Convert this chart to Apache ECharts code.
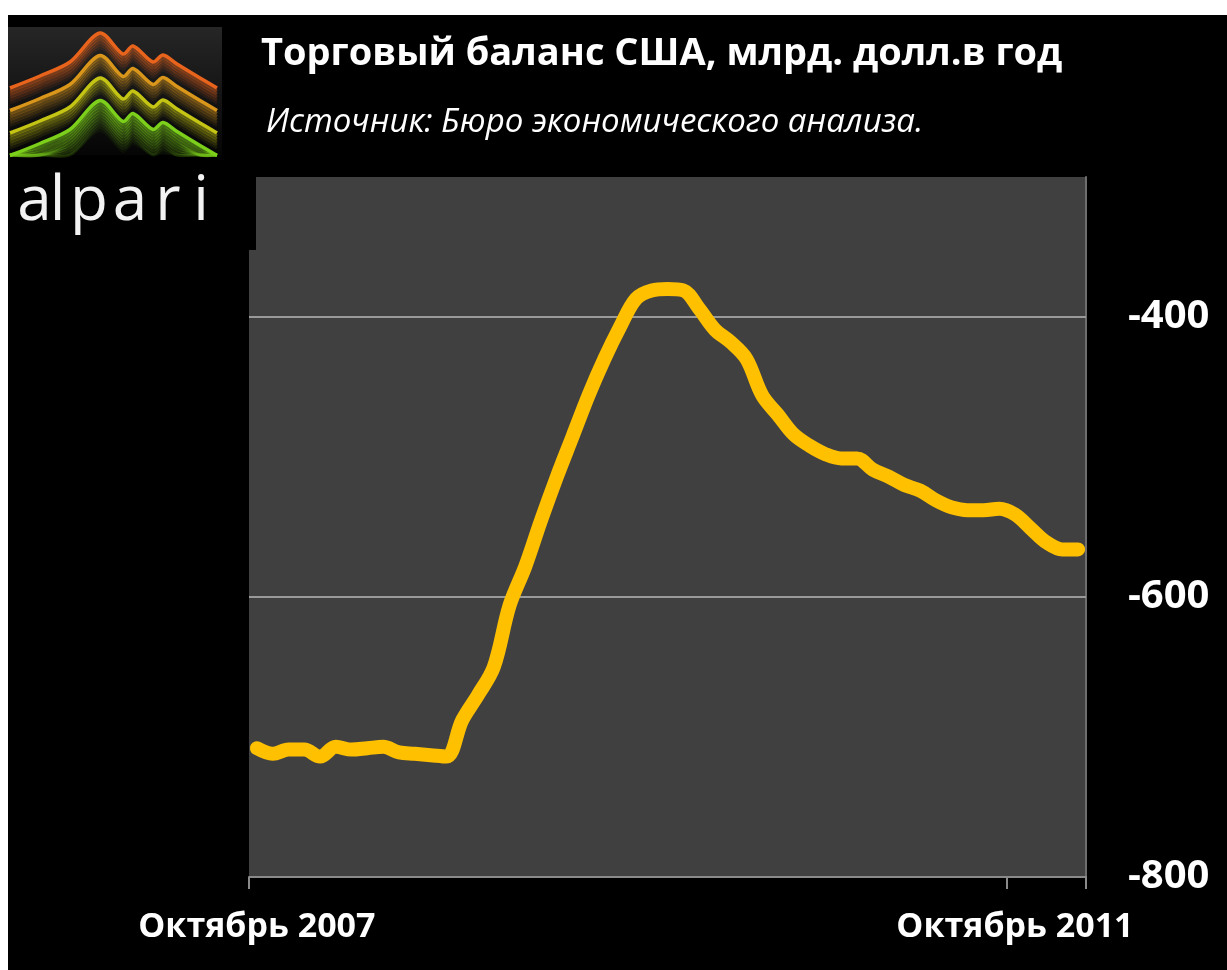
<!DOCTYPE html>
<html>
<head>
<meta charset="utf-8">
<script src="https://cdn.jsdelivr.net/npm/echarts@6/dist/echarts.min.js"></script>
<style>
html,body{margin:0;padding:0;background:#000;}
#chart{width:1227px;height:970px;}
</style>
</head>
<body>
<div id="chart"></div>
<script>
const titleText = 'Торговый баланс США, млрд. долл.в год';
const subtitleText = 'Источник: Бюро экономического анализа.';

const months = [
  '2007-10','2007-11','2007-12',
  '2008-01','2008-02','2008-03','2008-04','2008-05','2008-06','2008-07','2008-08','2008-09','2008-10','2008-11','2008-12',
  '2009-01','2009-02','2009-03','2009-04','2009-05','2009-06','2009-07','2009-08','2009-09','2009-10','2009-11','2009-12',
  '2010-01','2010-02','2010-03','2010-04','2010-05','2010-06','2010-07','2010-08','2010-09','2010-10','2010-11','2010-12',
  '2011-01','2011-02','2011-03','2011-04','2011-05','2011-06','2011-07','2011-08','2011-09','2011-10','2011-11','2011-12',
  '2012-01','2012-02'
];

const tradeBalance = [
  -708, -712, -709, -709, -714, -707, -709, -708, -707, -711, -712, -713, -714,
  -688, -670, -650, -606, -578, -545, -514, -485, -456, -430, -407, -387,
  -381, -380, -381, -394, -409, -418, -430, -456, -470, -484, -492, -498,
  -501, -501, -509, -514, -520, -524, -531, -536, -538, -538, -537, -541,
  -551, -561, -566, -566
];

const xTickLabels = { '2007-10': 'Октябрь 2007', '2011-10': 'Октябрь 2011' };
const yTickLabels = [-400, -600, -800];
const gridLineValues = [-400, -600];

const chart = echarts.init(document.getElementById('chart'), null, { renderer: 'canvas' });

// logo (decoration)
const baseMountain = [[10,88],[40,76],[70,62],[100,33],[123,54],[133,46],[153,62],[163,55],[177,64],[200,78],[217,88]];
const mountainRGB = [[232,100,28], [217,150,26], [196,196,20], [124,207,26]];
const logoEls = [];
logoEls.push({
  type: 'rect', shape: { x: 8, y: 27, width: 214, height: 128 },
  style: { fill: new echarts.graphic.LinearGradient(0, 0, 0, 1, [
    { offset: 0, color: '#262626' }, { offset: 1, color: '#050505' }]) },
  silent: true
});
mountainRGB.forEach((rgb, k) => {
  const glowSteps = k === 3 ? 10 : 5;
  for (let j = glowSteps; j >= 1; j--) {
    const a = 0.55 * (1 - j / (glowSteps + 1));
    const pts = baseMountain.map(p => [p[0], Math.min(p[1] + k * 22.5 + j * 3, 155)]);
    logoEls.push({
      type: 'polyline', shape: { points: pts, smooth: 0.3 },
      style: { stroke: `rgba(${rgb[0]},${rgb[1]},${rgb[2]},${a.toFixed(3)})`, lineWidth: 3, fill: null },
      silent: true
    });
  }
  const pts = baseMountain.map(p => [p[0], p[1] + k * 22.5]);
  logoEls.push({
    type: 'polyline', shape: { points: pts, smooth: 0.3 },
    style: { stroke: `rgb(${rgb[0]},${rgb[1]},${rgb[2]})`, lineWidth: 3.5, fill: null },
    silent: true
  });
});
const alpariLetters = [['a', 34.5], ['l', 57.5], ['p', 89], ['a', 130], ['r', 168], ['i', 201]];
alpariLetters.forEach(([ch, cx]) => {
  logoEls.push({
    type: 'text', x: cx, y: 171,
    style: { text: ch, fill: '#f2f2f2', font: 'normal 62px "Open Sans", "DejaVu Sans"', align: 'center', verticalAlign: 'top' },
    silent: true
  });
});

const option = {
  backgroundColor: '#000000',
  animation: false,
  title: [
    { text: titleText, left: 256, top: 30,
      textStyle: { color: '#ffffff', fontSize: 38, fontWeight: 'bold', fontFamily: '"Open Sans", sans-serif' } },
    { text: subtitleText, left: 261, top: 101,
      textStyle: { color: '#ffffff', fontSize: 33, fontStyle: 'italic', fontWeight: 'normal', fontFamily: '"Open Sans", sans-serif' } }
  ],
  grid: { left: 249, right: 141, top: 177, bottom: 93, show: true, backgroundColor: '#404040', borderWidth: 0 },
  xAxis: {
    type: 'category',
    data: months,
    boundaryGap: true,
    axisLine: { show: true, lineStyle: { color: '#8a8a8a', width: 2 } },
    axisTick: { show: true, length: 12, lineStyle: { color: '#8a8a8a', width: 2 },
      interval: (i, v) => v in xTickLabels },
    axisLabel: { interval: (i, v) => v in xTickLabels, formatter: v => xTickLabels[v] || '',
      color: '#ffffff', fontSize: 34, fontWeight: 'bold', fontFamily: '"Open Sans", sans-serif', margin: 33 },
    splitLine: { show: false }
  },
  yAxis: {
    type: 'value', position: 'right',
    min: -800, max: -300, interval: 100,
    axisLine: { show: true, lineStyle: { color: '#6e6e6e', width: 2 } },
    axisTick: { show: false },
    splitLine: { show: false },
    axisLabel: { formatter: v => yTickLabels.includes(v) ? String(v) : '',
      color: '#ffffff', fontSize: 40, fontWeight: 'bold', fontFamily: '"Open Sans", sans-serif', margin: 42 }
  },
  graphic: [
    { type: 'rect', shape: { x: 0, y: 0, width: 1227, height: 15 }, style: { fill: '#ffffff' }, silent: true },
    { type: 'rect', shape: { x: 0, y: 0, width: 8, height: 970 }, style: { fill: '#ffffff' }, silent: true },
    { type: 'rect', shape: { x: 248, y: 177, width: 8, height: 73 }, style: { fill: '#000000' }, silent: true, z: 1 },
    ...logoEls
  ],
  series: [{
    type: 'line',
    data: tradeBalance,
    smooth: 0.35,
    showSymbol: false,
    lineStyle: { color: '#FFC000', width: 14, cap: 'round', join: 'round' },
    z: 3,
    markLine: {
      silent: true, symbol: ['none', 'none'], label: { show: false },
      lineStyle: { color: '#9a9a9a', width: 2, type: 'solid' },
      data: gridLineValues.map(v => ({ yAxis: v })),
      z: 1
    }
  }]
};
chart.setOption(option);
</script>
</body>
</html>
